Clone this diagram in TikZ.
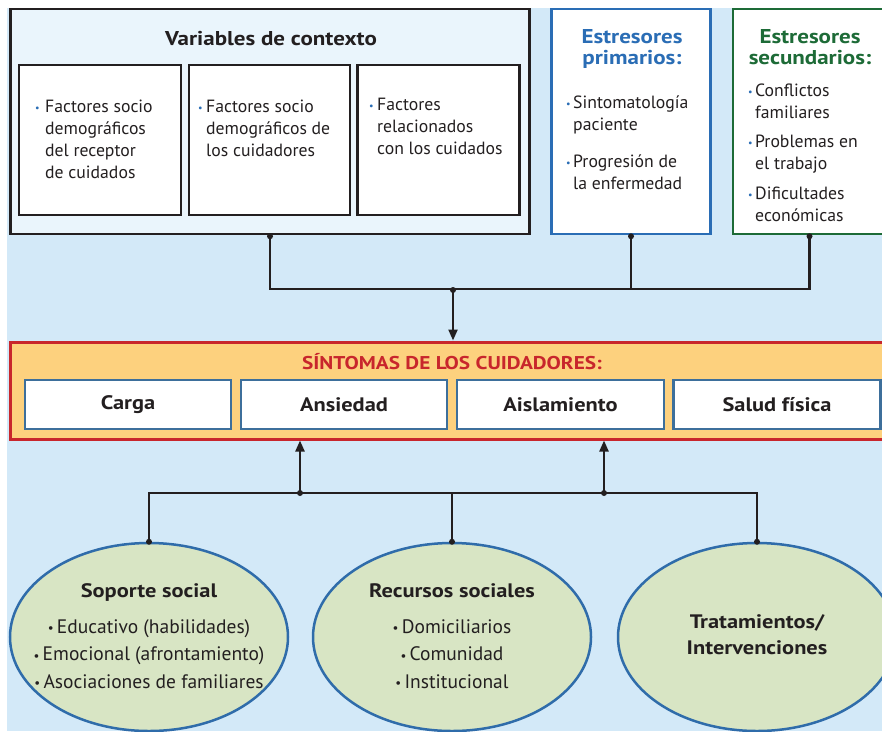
\documentclass[tikz,border=0pt]{standalone}
\usepackage{fontspec}
\setmainfont{PT Sans}[BoldFeatures={FakeStretch=1.15}]
\usetikzlibrary{arrows.meta,shapes.geometric}

\definecolor{bg}{HTML}{D3E9F8}
\definecolor{ctxfill}{HTML}{EAF5FC}
\definecolor{ink}{HTML}{231F20}
\definecolor{pblue}{HTML}{2A6DB5}
\definecolor{sgreen}{HTML}{1D6B37}
\definecolor{ambar}{HTML}{FDD17E}
\definecolor{rojo}{HTML}{C8262C}
\definecolor{steel}{HTML}{3D6F9B}
\definecolor{salvia}{HTML}{D8E5C4}
\definecolor{eblue}{HTML}{2F6CAA}

% bullet of a fixed width, coloured
\newcommand\bul[2][pblue]{\makebox[#2][l]{\textcolor{#1}{\raisebox{0.6pt}{\fontsize{10}{10}\selectfont\textbullet}}}}
\newcommand\ebul{\raisebox{0.5pt}{\fontsize{13}{13}\selectfont\textbullet}\,}

\tikzset{
  ctxbox/.style={draw=ink, line width=2.5pt, fill=ctxfill, inner sep=0},
  whitebox/.style={draw=ink, line width=2.2pt, fill=white, inner sep=0},
  primbox/.style={draw=pblue, line width=2.5pt, fill=white, inner sep=0},
  secbox/.style={draw=sgreen, line width=2.5pt, fill=white, inner sep=0},
  sintbar/.style={draw=rojo, line width=3pt, fill=ambar, inner sep=0},
  sintbox/.style={draw=steel, line width=2.5pt, fill=white, inner sep=0,
    minimum height=49pt, text=ink, font=\bfseries\fontsize{19.5}{24}\selectfont},
  oval/.style={ellipse, draw=eblue, line width=2.5pt, fill=salvia, inner sep=0,
    minimum width=278pt, minimum height=188pt},
  bodytxt/.style={inner sep=0, text=ink, font=\fontsize{17.7}{22}\selectfont},
  headtxt/.style={inner sep=0, font=\bfseries\fontsize{20}{21.5}\selectfont},
  ovaltxt/.style={inner sep=0, text=ink, font=\fontsize{19.5}{27.5}\selectfont},
  ovalhead/.style={inner sep=0, text=ink, font=\bfseries\fontsize{19.5}{26.5}\selectfont},
  conn/.style={draw=ink, line width=2.2pt},
  joint/.style={fill=ink},
  uptip/.style={-{Triangle[length=11pt,width=9pt]}},
}

\begin{document}
\begin{tikzpicture}[x=1pt, y=-1pt]
\useasboundingbox (0,0) rectangle (882,731);
\fill[white] (0,0) rectangle (882,731);
\fill[bg] (7,8) rectangle (882,731);

% ---------------- context variables ----------------
\node[ctxbox, minimum width=519pt, minimum height=225pt] (ctx) at (270,121.5) {};
\node[headtxt, text=ink, anchor=base] (ctxt) at (271,45) {Variables de contexto};
\node[whitebox, minimum width=162pt, minimum height=150pt] (f1) at (100,140) {};
\node[whitebox, minimum width=161pt, minimum height=150pt] (f2) at (269.5,140) {};
\node[whitebox, minimum width=162pt, minimum height=150pt] (f3) at (438.5,140) {};
\node[bodytxt, anchor=base west] (f1t) at (35,112) {\begin{tabular}[t]{@{}l@{}l@{}}
  \bul{10pt} & Factores socio\\ & demográficos\\ & del receptor\\ & de cuidados\end{tabular}};
\node[bodytxt, anchor=base west] (f2t) at (198,112) {\begin{tabular}[t]{@{}l@{}l@{}}
  \bul{8pt} & Factores socio\\ & demográficos de\\ & los cuidadores\end{tabular}};
\node[bodytxt, anchor=base west] (f3t) at (369,110) {\begin{tabular}[t]{@{}l@{}l@{}}
  \bul{8pt} & Factores\\ & relacionados\\ & con los cuidados\end{tabular}};

% ---------------- primary stressors ----------------
\node[primbox, minimum width=159pt, minimum height=225pt] (prim) at (631,121.5) {};
\node[headtxt, text=pblue, anchor=base] (primt) at (632,43)
  {\begin{tabular}[t]{@{}c@{}}Estresores\\primarios:\end{tabular}};
\node[bodytxt, anchor=base west] (primi) at (566,108) {\begin{tabular}[t]{@{}l@{}l@{}}
  \bul{7pt} & Sintomatología\\ & paciente\\[15pt]
  \bul{7pt} & Progresión de\\ & la enfermedad\end{tabular}};

% ---------------- secondary stressors ----------------
\node[secbox, minimum width=153pt, minimum height=225pt] (sec) at (809.5,121.5) {};
\node[headtxt, text=sgreen, anchor=base] (sect) at (810,43)
  {\begin{tabular}[t]{@{}c@{}}Estresores\\secundarios:\end{tabular}};
\node[bodytxt, anchor=base west] (seci) at (748,96) {\begin{tabular}[t]{@{}l@{}l@{}}
  \bul{7pt} & Conflictos\\ & familiares\\[7.5pt]
  \bul{7pt} & Problemas en\\ & el trabajo\\[7.5pt]
  \bul{7pt} & Dificultades\\ & económicas\end{tabular}};

% ---------------- caregiver symptoms ----------------
\node[sintbar, minimum width=880pt, minimum height=97pt] (sint) at (450,390.5) {};
\node[inner sep=0, text=rojo, font=\bfseries\fontsize{18.5}{20}\selectfont, anchor=base]
  (sintt) at (452,369.5) {SÍNTOMAS DE LOS CUIDADORES:};
\node[sintbox, minimum width=206pt] (s1) at (128,404.5) {Carga};
\node[sintbox, minimum width=206pt] (s2) at (344,404.5) {Ansiedad};
\node[sintbox, minimum width=207pt] (s3) at (560.5,404.5) {Aislamiento};
\node[sintbox, minimum width=207pt] (s4) at (777,404.5) {Salud física};

% ---------------- resources ----------------
\node[oval] (o1) at (149,637) {};
\node[oval] (o2) at (452,637) {};
\node[oval] (o3) at (757,637) {};
\node[ovalhead, anchor=base] (o1h) at (149,597) {Soporte social};
\node[ovaltxt, anchor=base] (o1i) at (149,633) {\begin{tabular}[t]{@{}c@{}}
  \ebul Educativo (habilidades)\\ \ebul Emocional (afrontamiento)\\ \ebul Asociaciones de familiares\end{tabular}};
\node[ovalhead, anchor=base] (o2h) at (452,597) {Recursos sociales};
\node[ovaltxt, anchor=base] (o2i) at (452,633) {\begin{tabular}[t]{@{}c@{}}
  \ebul Domiciliarios\\ \ebul Comunidad\\ \ebul Institucional\end{tabular}};
\node[ovalhead, anchor=base] (o3h) at (757,628) {\begin{tabular}[t]{@{}c@{}}Tratamientos/\\Intervenciones\end{tabular}};

% ---------------- connectors ----------------
\coordinate (jt) at (453,289);
\coordinate (jb) at (453,493);
\coordinate (u1) at (300,493);
\coordinate (u2) at (604,493);

\draw[conn] (ctx.south) |- (sec.south |- jt) -- (sec.south);
\draw[conn] (prim.south) -- (prim.south |- jt);
\draw[conn, uptip] (jt) -- (jt |- sint.north);
\foreach \p in {ctx.south, prim.south, sec.south, jt}
  \fill[joint] ([yshift=-1pt]\p) circle[radius=3pt];

\draw[conn] (o1.north) |- (o3.north |- jb) -- (o3.north);
\draw[conn] (o2.north) -- (o2.north |- jb);
\draw[conn, uptip] (u1) -- (u1 |- sint.south);
\draw[conn, uptip] (u2) -- (u2 |- sint.south);
\foreach \p in {o1.north, o2.north, o3.north, u1, u2}
  \fill[joint] (\p) circle[radius=3pt];
\end{tikzpicture}
\end{document}
